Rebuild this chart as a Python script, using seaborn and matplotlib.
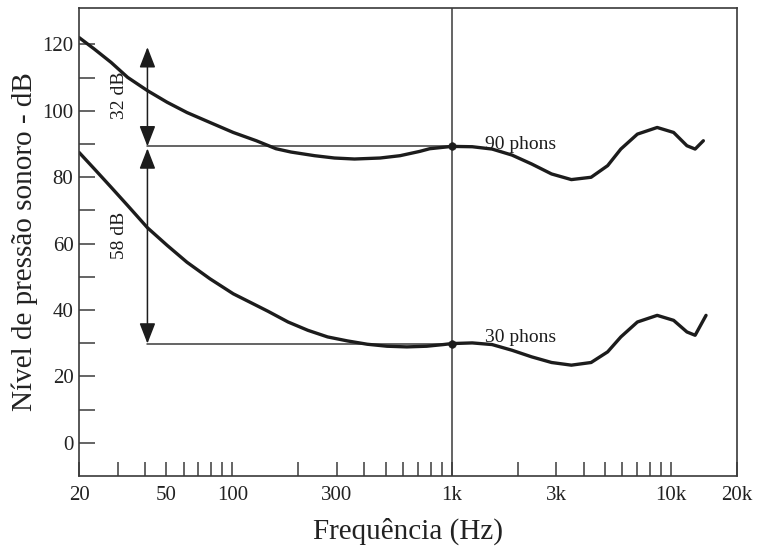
import numpy as np
import pandas as pd
import matplotlib
matplotlib.use("Agg")
import matplotlib.pyplot as plt
import seaborn as sns

# curvas isofônicas (frequência em Hz, nível em dB)
freq_90 = [20, 23.5, 28.0, 33.3, 41.0, 50.4, 62.1, 79.1, 100.9, 128.6, 158, 185,
           237, 292, 360, 471, 581, 715, 793, 1000, 1240, 1527, 1879, 2313, 2850,
           3508, 4316, 5134, 5896, 7016, 8636, 10260, 11800, 12860, 14020]
nivel_90 = [122.1, 118.6, 114.6, 110.1, 106.1, 102.6, 99.5, 96.5, 93.5, 91.0, 88.6,
            87.6, 86.5, 85.8, 85.5, 85.8, 86.5, 87.8, 88.6, 89.3, 89.2, 88.5, 86.7,
            84.0, 81.0, 79.3, 80.0, 83.5, 88.5, 93.0, 95.0, 93.5, 89.5, 88.5, 91.0]

freq_30 = [20, 23.5, 28.0, 33.3, 41.0, 50.4, 62.1, 79.1, 100.9, 128.6, 145.6, 179.4,
           220.8, 271.8, 334.6, 412, 507, 624, 768, 914, 1000, 1240, 1527, 1879,
           2313, 2850, 3508, 4316, 5134, 5896, 7016, 8636, 10260, 11800, 12860, 14420]
nivel_30 = [87.5, 82.5, 77.0, 71.5, 64.8, 59.5, 54.4, 49.4, 44.9, 41.4, 39.6, 36.4,
            33.9, 31.9, 30.7, 29.7, 29.1, 28.9, 29.1, 29.6, 29.9, 30.1, 29.6, 27.9,
            25.9, 24.2, 23.4, 24.2, 27.4, 31.9, 36.4, 38.4, 36.9, 33.4, 32.4, 38.4]

rotulos_curvas = ["90 phons", "30 phons"]
nivel_ref = [89.3, 29.9]        # níveis a 1 kHz
freq_seta = 41                  # posição das setas
topo_seta = 119.2
textos_seta = ["32 dB", "58 dB"]

ticks_x = [20, 50, 100, 300, 1000, 3000, 10000, 20000]
rotulos_x = ["20", "50", "100", "300", "1k", "3k", "10k", "20k"]
ticks_x_menores = [30, 40, 60, 70, 80, 90, 200, 400, 500, 600, 700, 800, 900,
                   2000, 4000, 5000, 6000, 7000, 8000, 9000]
ticks_y = [0, 20, 40, 60, 80, 100, 120]
ticks_y_menores = [10, 30, 50, 70, 90, 110]

df = pd.concat([
    pd.DataFrame({"freq": freq_90, "nivel": nivel_90, "curva": rotulos_curvas[0]}),
    pd.DataFrame({"freq": freq_30, "nivel": nivel_30, "curva": rotulos_curvas[1]}),
])

sns.set_style("white")
plt.rcParams["font.family"] = ["Liberation Serif", "DejaVu Serif"]

cor = "#1c1c1c"
cinza = "#3a3a3a"

fig = plt.figure(figsize=(7.6, 5.5), dpi=100)
ax = fig.add_axes([0.104, 0.1345, 0.866, 0.851])

sns.lineplot(data=df, x="freq", y="nivel", hue="curva", palette=[cor, cor],
             estimator=None, legend=False, linewidth=2.4, ax=ax,
             solid_joinstyle="round", solid_capstyle="round")

ax.set_xscale("log")
ax.set_xlim(20, 20000)
ax.set_ylim(-10, 131)

# linhas de referência
ax.axvline(1000, color=cinza, linewidth=1.1, zorder=1)
for nv in nivel_ref:
    ax.plot([freq_seta, 1000], [nv, nv], color=cinza, linewidth=1.1, zorder=1)
sns.scatterplot(x=[1000, 1000], y=nivel_ref, color=cor, s=30, ax=ax, zorder=5,
                edgecolor=cor)

# setas de diferença
estilo = dict(arrowstyle="<|-|>,head_length=0.9,head_width=0.35", color=cor,
              linewidth=1.1, shrinkA=0, shrinkB=0, mutation_scale=14)
ax.annotate("", xy=(freq_seta, topo_seta), xytext=(freq_seta, nivel_ref[0]),
            arrowprops=estilo)
ax.annotate("", xy=(freq_seta, nivel_ref[0] - 0.6), xytext=(freq_seta, nivel_ref[1]),
            arrowprops=estilo)
ax.text(30.5, (topo_seta + nivel_ref[0]) / 2 + 0.5, textos_seta[0], rotation=90,
        ha="center", va="center", fontsize=14, color=cor)
ax.text(30.5, (nivel_ref[0] + nivel_ref[1]) / 2 + 3, textos_seta[1], rotation=90,
        ha="center", va="center", fontsize=14, color=cor)

ax.text(1424, 88.6, rotulos_curvas[0], fontsize=14, color=cor, va="baseline")
ax.text(1424, 30.4, rotulos_curvas[1], fontsize=14, color=cor, va="baseline")

ax.set_xticks(ticks_x)
ax.set_xticklabels(rotulos_x)
ax.set_xticks(ticks_x_menores, minor=True)
ax.set_xticklabels([], minor=True)
ax.set_yticks(ticks_y)
ax.set_yticks(ticks_y_menores, minor=True)

ax.tick_params(axis="x", which="both", direction="in", length=10, width=1.1,
               bottom=True, color=cinza, labelsize=15, pad=7, labelcolor="#222222")
ax.tick_params(axis="y", which="both", direction="in", length=11.5, width=1.1,
               left=True, color=cinza, labelsize=15, pad=4, labelcolor="#222222")

for sp in ax.spines.values():
    sp.set_color(cinza)
    sp.set_linewidth(1.2)

ax.set_xlabel("Frequência (Hz)", fontsize=21, color="#222222", labelpad=9)
ax.set_ylabel("Nível de pressão sonoro - dB", fontsize=21, color="#222222", labelpad=3)

fig.savefig("out.png", dpi=100)
